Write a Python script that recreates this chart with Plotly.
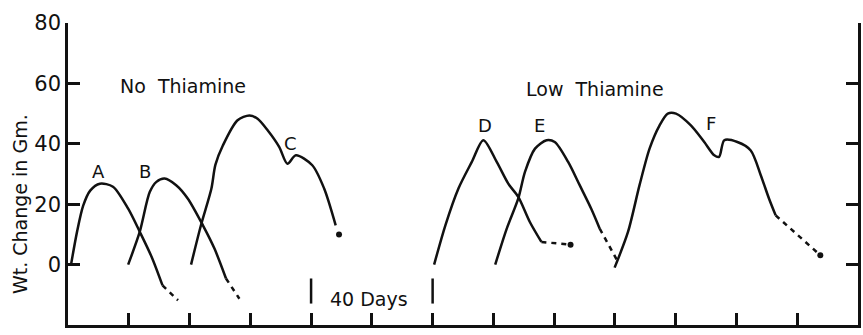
import plotly.graph_objects as go

# Weight change (g) against time (days) for six animals
a_days = [1, 3, 5, 7.3, 10.5, 14.8, 19.8, 23.6, 27.5, 31.1]
a_wt = [0, 11, 19.5, 24.5, 26.8, 25.8, 18.5, 10.9, 2.6, -6.9]
a_tail_days = [31.1, 36.2]
a_tail_wt = [-6.9, -11.8]

b_days = [19.8, 23.6, 26.9, 29.1, 31.8, 35.6, 39.4, 44.4, 48.2, 52]
b_wt = [0, 10.8, 24, 27.4, 28.5, 26.3, 21.9, 13, 5.3, -4.6]
b_tail_days = [52, 56.4]
b_tail_wt = [-4.6, -11.3]

c_days = [40.5, 43.8, 47.2, 48.5, 51, 55.8, 59.7, 62.4, 65.7, 69.5, 72.2, 75, 80.4, 84.3, 88.1]
c_wt = [0, 13.2, 25.2, 33, 39.5, 47.8, 49.4, 48.3, 44.5, 39, 33.4, 36.2, 32.9, 25.2, 13]
c_end_days = [89.2]
c_end_wt = [10]

d_days = [120.5, 124.2, 128.5, 132.9, 136.7, 141.1, 144.9, 148.2, 152, 155.8]
d_wt = [0, 13, 25.2, 34, 41.2, 34, 26.8, 22.4, 14.1, 7.5]
d_tail_days = [155.8, 165.4]
d_tail_wt = [7.5, 6.6]

e_days = [140.6, 144.4, 148.2, 150.4, 153.7, 157.5, 160.2, 164.6, 168.4, 172.2, 175]
e_wt = [0, 11.9, 21.9, 30.7, 38.4, 41.2, 40.6, 34, 26.3, 18.5, 11.9]
e_tail_days = [175, 181]
e_tail_wt = [11.9, 0.9]

f_days = [179.9, 184.3, 188.1, 191.4, 194.7, 197.4, 200.1, 205, 209.4, 212.7, 214.3,
          216, 220.3, 224.7, 228, 230.7, 232.9]
f_wt = [-1, 10.8, 26.3, 38.4, 46.1, 50, 50, 46.1, 40.6, 36.2, 35.7,
        41.2, 40.6, 37.8, 29.6, 21.9, 16.3]
f_tail_days = [232.9, 247.6]
f_tail_wt = [16.3, 3.1]

y_ticks = [-20, 0, 20, 40, 60, 80]
y_tick_labels = ["-20", "0", "20", "40", "60", "80"]
x_ticks = list(range(0, 261, 20))
scale_bar_days = [80, 120]

FONT = "DejaVu Sans"
INK = "#111111"
LW = 2.5

fig = go.Figure()

solid = [(a_days, a_wt), (b_days, b_wt), (c_days, c_wt),
         (d_days, d_wt), (e_days, e_wt), (f_days, f_wt)]
for xs, ys in solid:
    fig.add_trace(go.Scatter(x=xs, y=ys, mode="lines",
                             line=dict(color=INK, width=LW, shape="spline", smoothing=0.8),
                             hoverinfo="skip", showlegend=False))

tails = [(a_tail_days, a_tail_wt, False), (b_tail_days, b_tail_wt, False),
         (d_tail_days, d_tail_wt, True), (e_tail_days, e_tail_wt, False),
         (f_tail_days, f_tail_wt, True)]
for xs, ys, dot in tails:
    fig.add_trace(go.Scatter(x=xs, y=ys, mode="lines",
                             line=dict(color=INK, width=LW, dash="5px,5px"),
                             hoverinfo="skip", showlegend=False))
    if dot:
        fig.add_trace(go.Scatter(x=xs[-1:], y=ys[-1:], mode="markers",
                                 marker=dict(color=INK, size=6),
                                 hoverinfo="skip", showlegend=False))

fig.add_trace(go.Scatter(x=c_end_days, y=c_end_wt, mode="markers",
                         marker=dict(color=INK, size=6),
                         hoverinfo="skip", showlegend=False))

# 40-day scale bar
for d in scale_bar_days:
    fig.add_shape(type="line", x0=d, x1=d, y0=-4.6, y1=-12.9,
                  line=dict(color=INK, width=LW), xref="x", yref="y")

labels = [("A", 9.9, 30.9), ("B", 25.2, 30.9), ("C", 73.3, 40.1),
          ("D", 137.3, 45.9), ("E", 155.3, 45.9), ("F", 211.6, 46.7)]
for txt, x, y in labels:
    fig.add_annotation(x=x, y=y, text=txt, showarrow=False,
                       font=dict(family=FONT, size=18, color=INK))

fig.add_annotation(x=37.7, y=59.3, text="No  Thiamine", showarrow=False,
                   font=dict(family=FONT, size=19, color=INK))
fig.add_annotation(x=173.4, y=58.3, text="Low  Thiamine", showarrow=False,
                   font=dict(family=FONT, size=19, color=INK))
fig.add_annotation(x=99, y=-11.3, text="40 Days", showarrow=False,
                   font=dict(family=FONT, size=19, color=INK))

fig.add_annotation(xref="paper", yref="paper", x=-0.061, y=0.40,
                   xanchor="center", yanchor="middle",
                   text="Wt. Change in Gm.", textangle=-90, showarrow=False,
                   font=dict(family=FONT, size=19, color=INK))

fig.update_xaxes(range=[0, 260], tickvals=x_ticks, ticks="inside", ticklen=12,
                 tickwidth=LW, tickcolor=INK, showticklabels=False,
                 showline=True, linecolor=INK, linewidth=LW,
                 showgrid=False, zeroline=False, mirror=False)
fig.update_yaxes(range=[-20, 80], tickvals=y_ticks, ticktext=y_tick_labels,
                 ticks="inside", ticklen=12, tickwidth=LW, tickcolor=INK,
                 tickfont=dict(family=FONT, size=21, color=INK),
                 showline=True, linecolor=INK, linewidth=LW, mirror="ticks",
                 showgrid=False, zeroline=False)

fig.update_layout(width=863, height=335,
                  margin=dict(l=68, r=2, t=23, b=10),
                  plot_bgcolor="white", paper_bgcolor="white",
                  font=dict(family=FONT, color=INK))

fig.write_html("out.html")
